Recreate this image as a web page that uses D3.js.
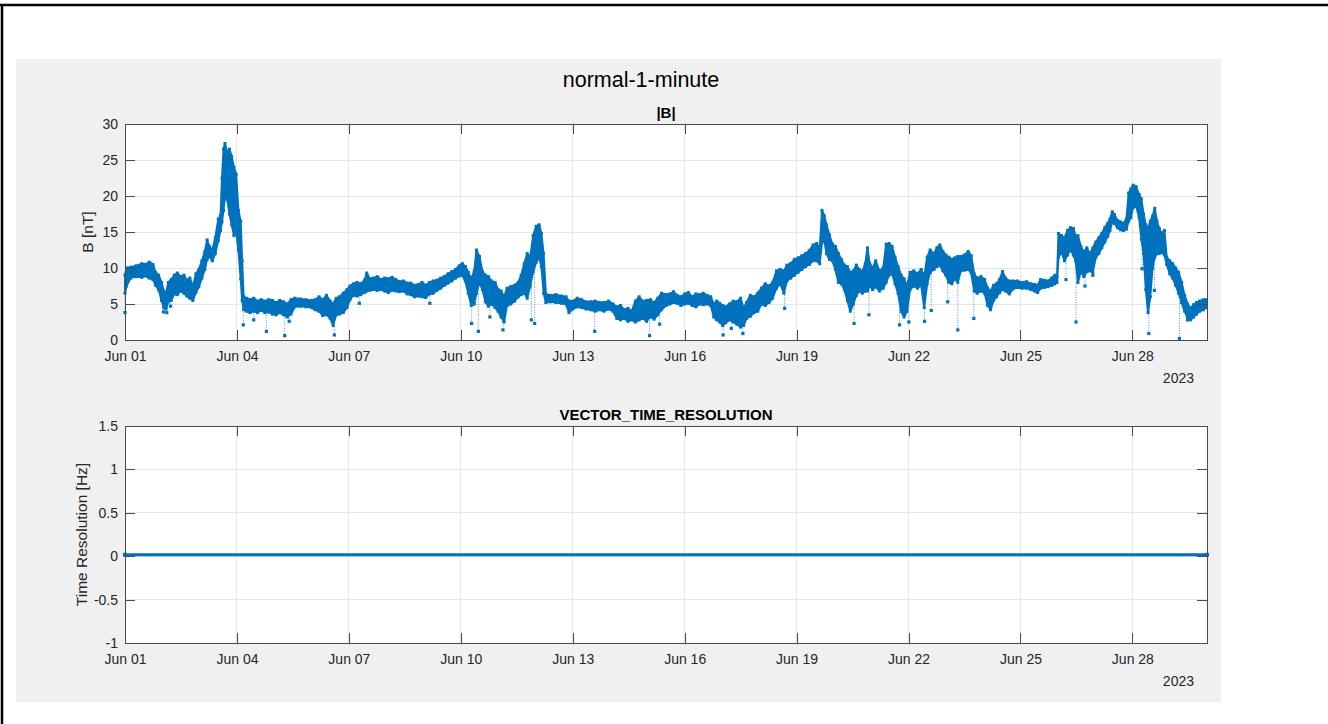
<!DOCTYPE html>
<html>
<head>
<meta charset="utf-8">
<script src="https://cdn.jsdelivr.net/npm/d3@7"></script>
<style>
  html, body { margin: 0; padding: 0; background: #ffffff; }
  svg { display: block; font-family: "Liberation Sans", Arial, Helvetica, sans-serif; }
</style>
</head>
<body>
<svg id="fig" width="1328" height="724"></svg>
<script>
// ---- |B| magnitude, June 2023: band of 1-minute samples (days since Jun 01 00:00 UTC) ----
const bandDay = [
  0.00,0.04,0.15,0.30,0.45,0.55,0.65,0.75,0.82,0.90,0.98,1.04,1.10,1.16,1.24,1.32,1.40,1.50,1.58,1.66,
  1.74,1.82,1.90,1.98,2.06,2.14,2.20,2.26,2.34,2.42,2.50,2.56,2.60,2.64,2.68,2.74,2.80,2.86,2.92,2.98,
  3.04,3.10,3.14,3.18,3.26,3.35,3.45,3.55,3.65,3.75,3.85,3.95,4.05,4.15,4.25,4.35,4.45,4.55,4.70,4.85,
  5.00,5.10,5.20,5.30,5.40,5.50,5.58,5.66,5.75,5.85,5.95,6.03,6.12,6.22,6.32,6.42,6.48,6.56,6.66,6.76,
  6.86,6.96,7.06,7.16,7.26,7.36,7.46,7.56,7.66,7.76,7.86,7.96,8.06,8.16,8.26,8.36,8.46,8.56,8.66,8.76,
  8.86,8.96,9.04,9.12,9.20,9.28,9.36,9.42,9.50,9.58,9.66,9.74,9.82,9.92,10.00,10.08,10.16,10.24,10.34,10.44,
  10.54,10.62,10.70,10.78,10.86,10.94,11.02,11.10,11.16,11.22,11.28,11.40,11.55,11.70,11.82,11.90,12.00,12.12,12.24,12.36,
  12.48,12.60,12.72,12.84,12.96,13.08,13.18,13.28,13.38,13.48,13.58,13.68,13.78,13.88,13.98,14.08,14.18,14.28,14.38,14.50,
  14.60,14.70,14.80,14.90,15.00,15.10,15.20,15.30,15.40,15.50,15.60,15.70,15.78,15.86,15.94,16.02,16.10,16.20,16.30,16.40,
  16.50,16.58,16.66,16.76,16.86,16.96,17.06,17.16,17.26,17.36,17.46,17.56,17.66,17.74,17.84,17.94,18.04,18.14,18.24,18.34,
  18.44,18.54,18.62,18.68,18.74,18.80,18.88,18.96,19.04,19.12,19.20,19.28,19.36,19.44,19.52,19.60,19.68,19.76,19.84,19.90,
  19.96,20.04,20.12,20.22,20.32,20.40,20.48,20.56,20.64,20.72,20.80,20.88,20.96,21.04,21.14,21.24,21.34,21.42,21.50,21.58,
  21.68,21.76,21.84,21.92,22.00,22.08,22.16,22.24,22.32,22.40,22.50,22.60,22.68,22.76,22.84,22.94,23.04,23.12,23.20,23.28,
  23.36,23.44,23.52,23.60,23.70,23.80,23.92,24.04,24.16,24.28,24.38,24.46,24.54,24.64,24.74,24.84,24.92,24.98,25.02,25.10,
  25.18,25.26,25.34,25.42,25.48,25.54,25.62,25.70,25.78,25.86,25.94,26.02,26.10,26.18,26.26,26.34,26.40,26.46,26.52,26.60,
  26.68,26.76,26.84,26.90,26.96,27.02,27.10,27.18,27.24,27.30,27.36,27.42,27.48,27.54,27.60,27.66,27.72,27.78,27.86,27.92,
  28.00,28.08,28.16,28.24,28.32,28.40,28.48,28.56,28.64,28.72,28.80,28.90,28.98
];
const bandLow = [
  6.5,7.5,8.6,8.8,8.7,8.9,8.6,8.4,7.6,7.0,5.5,4.5,4.3,5.3,5.5,6.4,6.3,6.8,6.5,6.1,
  5.8,5.5,6.6,7.4,8.6,9.8,11.2,11.6,11.0,12.0,13.8,15.2,16.4,18.0,20.0,19.5,17.5,16.0,14.5,15.0,
  12.5,8.5,5.5,4.2,4.0,3.8,4.0,3.8,4.1,3.8,3.9,3.6,3.5,3.8,3.5,3.2,3.6,4.6,4.7,4.6,
  4.5,4.2,4.0,3.4,3.5,3.0,2.0,3.5,3.6,3.8,4.5,5.6,6.2,6.1,6.3,6.6,6.8,6.9,7.0,6.9,
  7.0,6.8,6.6,6.9,6.8,6.7,6.8,6.4,6.3,6.0,6.1,6.0,5.9,6.4,6.5,6.9,7.2,7.6,7.9,8.2,
  8.6,8.9,9.0,8.2,6.5,4.8,5.0,6.5,8.0,7.0,5.3,4.7,5.0,4.5,4.0,3.2,2.5,4.8,5.0,5.4,
  6.0,6.3,6.5,5.8,7.5,9.5,10.8,11.5,10.2,6.5,5.2,5.3,5.2,5.1,5.0,3.8,4.3,4.6,4.5,4.3,
  4.2,4.0,4.2,4.0,4.3,4.0,3.0,2.8,3.0,2.6,2.8,2.5,2.8,3.0,2.6,3.2,2.9,3.5,4.2,4.8,
  5.0,5.2,5.1,4.8,5.0,5.1,4.8,4.6,5.0,4.9,5.0,4.8,3.2,2.8,2.5,2.0,2.4,2.8,2.5,2.2,
  1.8,2.0,3.0,3.3,3.8,4.0,5.0,4.8,5.2,5.8,7.2,7.8,6.5,8.2,8.6,9.0,9.4,9.8,10.2,10.5,
  11.0,11.0,10.6,13.5,14.0,12.0,11.2,11.0,9.8,8.0,7.8,7.0,5.5,4.0,5.0,6.2,6.8,6.5,6.8,6.8,
  7.5,7.0,7.4,6.8,7.2,8.0,9.0,9.2,7.8,6.5,4.0,3.2,4.0,7.0,7.5,7.2,7.6,4.5,7.8,9.4,
  9.8,10.2,10.4,9.6,9.0,8.0,7.8,8.5,8.0,9.6,9.7,9.8,9.3,6.8,6.5,6.8,6.5,4.8,4.2,5.5,
  6.0,6.6,7.0,6.8,6.4,7.1,7.3,7.2,7.2,7.0,6.8,6.6,7.2,7.3,7.4,7.6,7.8,8.0,11.5,12.2,
  11.0,11.8,12.5,11.8,11.0,8.0,9.5,8.8,9.5,9.6,9.4,11.5,12.0,12.8,13.6,14.4,15.2,16.4,16.2,15.6,
  15.3,15.2,15.4,16.5,17.0,18.4,18.6,17.0,14.0,12.0,7.0,3.8,6.0,10.0,11.5,12.0,12.0,12.2,11.8,10.5,
  9.2,8.6,7.6,6.5,5.2,4.0,3.0,2.8,3.2,3.6,4.0,4.2,4.5
];
const bandHigh = [
  9.0,10.0,10.1,10.3,10.6,10.5,10.8,10.5,9.4,9.0,8.0,6.8,6.5,8.0,8.4,9.0,9.3,8.8,9.0,8.3,
  8.6,7.4,9.2,9.8,11.0,12.3,13.9,13.0,12.5,14.2,16.8,17.3,22.5,26.5,27.3,26.0,26.5,25.5,24.0,23.0,
  18.0,16.5,11.0,6.0,5.8,5.6,5.8,5.4,5.6,5.4,5.6,5.5,5.2,5.5,5.3,5.0,5.6,5.8,5.7,5.6,
  5.5,5.6,6.0,5.6,6.2,5.4,5.0,5.8,6.0,6.5,7.0,7.5,7.8,8.0,7.8,8.3,9.3,8.5,8.6,8.8,
  8.4,8.6,8.5,8.7,8.4,8.1,8.2,7.9,7.9,7.6,7.7,8.0,7.6,8.0,8.2,8.3,8.6,8.8,9.2,9.5,
  9.8,10.3,10.6,10.2,9.4,8.5,9.6,12.5,11.6,9.5,9.0,8.8,8.2,8.0,7.0,6.8,6.0,7.2,7.4,7.6,
  8.0,9.0,10.6,12.0,11.5,14.5,15.8,16.0,14.8,12.0,6.4,6.2,6.3,6.1,6.0,5.4,5.4,5.8,5.6,5.3,
  5.3,5.4,5.2,5.2,5.4,5.0,4.6,4.8,4.2,4.4,4.0,5.4,6.0,5.4,5.5,5.6,5.2,5.8,6.5,6.3,
  6.4,6.7,6.2,6.0,6.4,6.6,6.0,6.4,6.3,6.5,6.2,6.0,5.0,5.4,5.1,4.8,4.6,5.0,5.4,5.3,
  5.8,4.4,5.2,6.2,6.0,6.5,7.2,7.8,7.5,8.0,9.6,9.8,9.6,10.4,10.6,11.2,11.4,11.7,12.0,12.4,
  13.2,13.4,12.6,18.0,17.3,16.0,14.6,13.3,13.0,12.0,11.2,10.4,10.2,9.4,9.6,10.4,9.8,9.5,10.6,12.8,
  10.6,10.0,11.0,9.6,10.0,13.3,13.4,13.0,11.5,10.2,9.0,8.5,7.5,9.4,9.6,9.2,9.8,8.8,11.5,12.5,
  12.0,12.8,13.2,12.3,11.8,11.5,11.2,11.4,11.6,11.6,11.8,12.3,11.7,9.2,8.6,8.8,8.4,7.2,6.8,7.6,
  7.8,8.4,9.5,8.6,8.2,8.2,8.2,8.0,8.1,7.8,7.7,7.6,8.4,8.3,8.2,8.6,9.0,8.8,14.8,14.5,
  14.2,15.2,15.6,15.5,14.4,14.5,13.0,12.2,12.8,12.0,12.8,13.6,14.2,14.8,15.6,16.2,16.8,17.8,17.4,16.6,
  16.4,16.2,16.8,20.4,21.0,21.5,21.3,20.2,19.6,17.5,16.0,15.5,16.5,17.2,18.3,16.5,15.5,14.8,15.2,11.5,
  11.0,10.6,10.0,9.4,8.0,6.2,5.0,4.4,4.9,5.2,5.4,5.6,5.6
];
// isolated low excursions below the band: day offset and |B| in nT
const dipDay = [0.00,1.03,1.12,1.22,3.17,3.79,3.45,4.28,4.40,5.61,6.28,8.17,9.29,9.47,9.78,10.13,10.89,10.98,12.59,14.06,
                14.33,16.03,16.25,16.56,17.68,19.54,19.94,20.76,21.01,21.43,21.61,22.05,22.32,22.75,25.22,25.49,25.73,25.94,27.26,27.44,
                27.59,28.26,28.48];
const dipVal = [3.8,3.9,3.8,4.7,2.1,1.2,2.8,0.6,2.6,0.7,5.1,5.1,2.3,1.2,3.2,1.4,2.8,2.3,1.2,0.6,
                2.2,0.7,1.6,0.9,4.4,2.3,3.5,2.1,2.5,2.6,4.1,5.3,1.4,3.0,8.4,2.5,7.5,9.0,9.9,0.9,
                6.9,0.2,2.8];

// ---- vector time resolution (Hz) ----
const resDay = [0, 29];
const resHz = [0.0167, 0.0167];

// ---- axis settings ----
const bTicks = [0, 5, 10, 15, 20, 25, 30];
const resTicks = [-1, -0.5, 0, 0.5, 1, 1.5];

const t0 = Date.UTC(2023, 5, 1);
const toDate = d => new Date(t0 + d * 864e5);

const svg = d3.select("#fig");
const blue = "#0072BD";
const axisColor = "#4a4a4a";
const textColor = "#262626";

// outer frame strokes
svg.append("line").attr("x1", 0).attr("x2", 1328).attr("y1", 5).attr("y2", 5)
  .attr("stroke", "#000").attr("stroke-width", 2.5);
svg.append("line").attr("x1", 2).attr("x2", 2).attr("y1", 4).attr("y2", 724)
  .attr("stroke", "#000").attr("stroke-width", 2.5);

// figure background
svg.append("rect").attr("x", 16).attr("y", 59).attr("width", 1205).attr("height", 643).attr("fill", "#f0f0f0");

svg.append("text").attr("x", 641).attr("y", 87).attr("text-anchor", "middle")
  .attr("font-size", 21.5).attr("fill", "#000").text("normal-1-minute");

const left = 125, right = 1207;
const x = d3.scaleUtc().domain([toDate(0), toDate(29)]).range([left, right]);
const xTicks = d3.utcDay.every(3).range(toDate(0), toDate(28.5));

function panel(top, bottom, yDomain, yTicks, title, ylabel, ylabelX) {
  const y = d3.scaleLinear().domain(yDomain).range([bottom, top]);
  const g = svg.append("g");
  g.append("rect").attr("x", left).attr("y", top).attr("width", right - left).attr("height", bottom - top).attr("fill", "#fff");
  // grid
  g.append("g").selectAll("line").data(xTicks).join("line")
    .attr("x1", d => x(d)).attr("x2", d => x(d)).attr("y1", top).attr("y2", bottom)
    .attr("stroke", "#e6e6e6").attr("stroke-width", 1).attr("shape-rendering", "crispEdges");
  g.append("g").selectAll("line").data(yTicks).join("line")
    .attr("x1", left).attr("x2", right).attr("y1", d => y(d)).attr("y2", d => y(d))
    .attr("stroke", "#e6e6e6").attr("stroke-width", 1).attr("shape-rendering", "crispEdges");
  const plot = g.append("g");
  // axes (ticks inward, box on)
  const fmtX = d3.utcFormat("%b %d");
  const ax = [
    g.append("g").attr("transform", `translate(0,${bottom})`)
      .call(d3.axisBottom(x).tickValues(xTicks).tickFormat(fmtX).tickSize(-10).tickSizeOuter(0).tickPadding(11)),
    g.append("g").attr("transform", `translate(0,${top})`)
      .call(d3.axisTop(x).tickValues(xTicks).tickFormat("").tickSize(-10).tickSizeOuter(0)),
    g.append("g").attr("transform", `translate(${left},0)`)
      .call(d3.axisLeft(y).tickValues(yTicks).tickFormat(d => String(d)).tickSize(-10).tickSizeOuter(0).tickPadding(7)),
    g.append("g").attr("transform", `translate(${right},0)`)
      .call(d3.axisRight(y).tickValues(yTicks).tickFormat("").tickSize(-10).tickSizeOuter(0))
  ];
  ax.forEach(a => {
    a.select(".domain").attr("stroke", axisColor).attr("stroke-width", 1).attr("shape-rendering", "crispEdges");
    a.selectAll(".tick line").attr("stroke", axisColor).attr("stroke-width", 1).attr("shape-rendering", "crispEdges");
    a.selectAll(".tick text").attr("fill", textColor).attr("font-size", 14)
      .attr("font-family", "'Liberation Sans', Arial, Helvetica, sans-serif");
  });
  g.append("text").attr("x", right - 13).attr("y", bottom + 43).attr("text-anchor", "end")
    .attr("font-size", 14).attr("fill", textColor).text("2023");
  g.append("text").attr("x", (left + right) / 2).attr("y", top - 6).attr("text-anchor", "middle")
    .attr("font-size", 15).attr("font-weight", "bold").attr("fill", "#000").text(title);
  g.append("text").attr("transform", `translate(${ylabelX},${(top + bottom) / 2}) rotate(-90)`)
    .attr("text-anchor", "middle").attr("font-size", 15.5).attr("fill", textColor).text(ylabel);
  return { y, plot };
}

// ---- top panel: |B| ----
const p1 = panel(124, 340, [0, 30], bTicks, "|B|", "B [nT]", 93);
const band = bandDay.map((d, i) => ({ t: toDate(d), lo: bandLow[i], hi: bandHigh[i] }));
svg.append("clipPath").attr("id", "clip1").append("rect")
  .attr("x", left - 3).attr("y", 124).attr("width", right - left + 6).attr("height", 216);
p1.plot.attr("clip-path", "url(#clip1)");

const bisect = d3.bisector(d => d.t).left;
function lowAt(t) {
  const i = Math.max(1, Math.min(band.length - 1, bisect(band, t)));
  const a = band[i - 1], b = band[i];
  const f = (t - a.t) / (b.t - a.t);
  return a.lo + (b.lo - a.lo) * Math.max(0, Math.min(1, f));
}
// dotted connectors down to the dips
dipDay.forEach((d, i) => {
  const t = toDate(d);
  p1.plot.append("line").attr("x1", x(t)).attr("x2", x(t))
    .attr("y1", p1.y(lowAt(t))).attr("y2", p1.y(dipVal[i]))
    .attr("stroke", "#4d95cf").attr("stroke-width", 1).attr("stroke-dasharray", "1,1.5");
});
p1.plot.append("path").datum(band)
  .attr("d", d3.area().x(d => x(d.t)).y0(d => p1.y(d.lo)).y1(d => p1.y(d.hi)))
  .attr("fill", blue).attr("stroke", blue).attr("stroke-width", 2).attr("stroke-linejoin", "round");
// sample markers along band edges
p1.plot.append("g").selectAll("rect").data(band.flatMap(d => [[d.t, d.lo], [d.t, d.hi]])).join("rect")
  .attr("x", d => x(d[0]) - 1.5).attr("y", d => p1.y(d[1]) - 1.5).attr("width", 3).attr("height", 3).attr("fill", blue);
p1.plot.append("g").selectAll("rect").data(dipDay.map((d, i) => [toDate(d), dipVal[i]])).join("rect")
  .attr("x", d => x(d[0]) - 1.6).attr("y", d => p1.y(d[1]) - 1.6).attr("width", 3.2).attr("height", 3.2).attr("fill", blue);

// ---- bottom panel: time resolution ----
const p2 = panel(426, 643, [-1, 1.5], resTicks, "VECTOR_TIME_RESOLUTION", "Time Resolution [Hz]", 87);
const res = resDay.map((d, i) => ({ t: toDate(d), v: resHz[i] }));
p2.plot.append("path").datum(res)
  .attr("d", d3.line().x(d => x(d.t)).y(d => p2.y(d.v)))
  .attr("fill", "none").attr("stroke", blue).attr("stroke-width", 3.2);
p2.plot.append("g").selectAll("rect").data(res).join("rect")
  .attr("x", d => x(d.t) - 2).attr("y", d => p2.y(d.v) - 2).attr("width", 4).attr("height", 4).attr("fill", blue);
</script>
</body>
</html>
